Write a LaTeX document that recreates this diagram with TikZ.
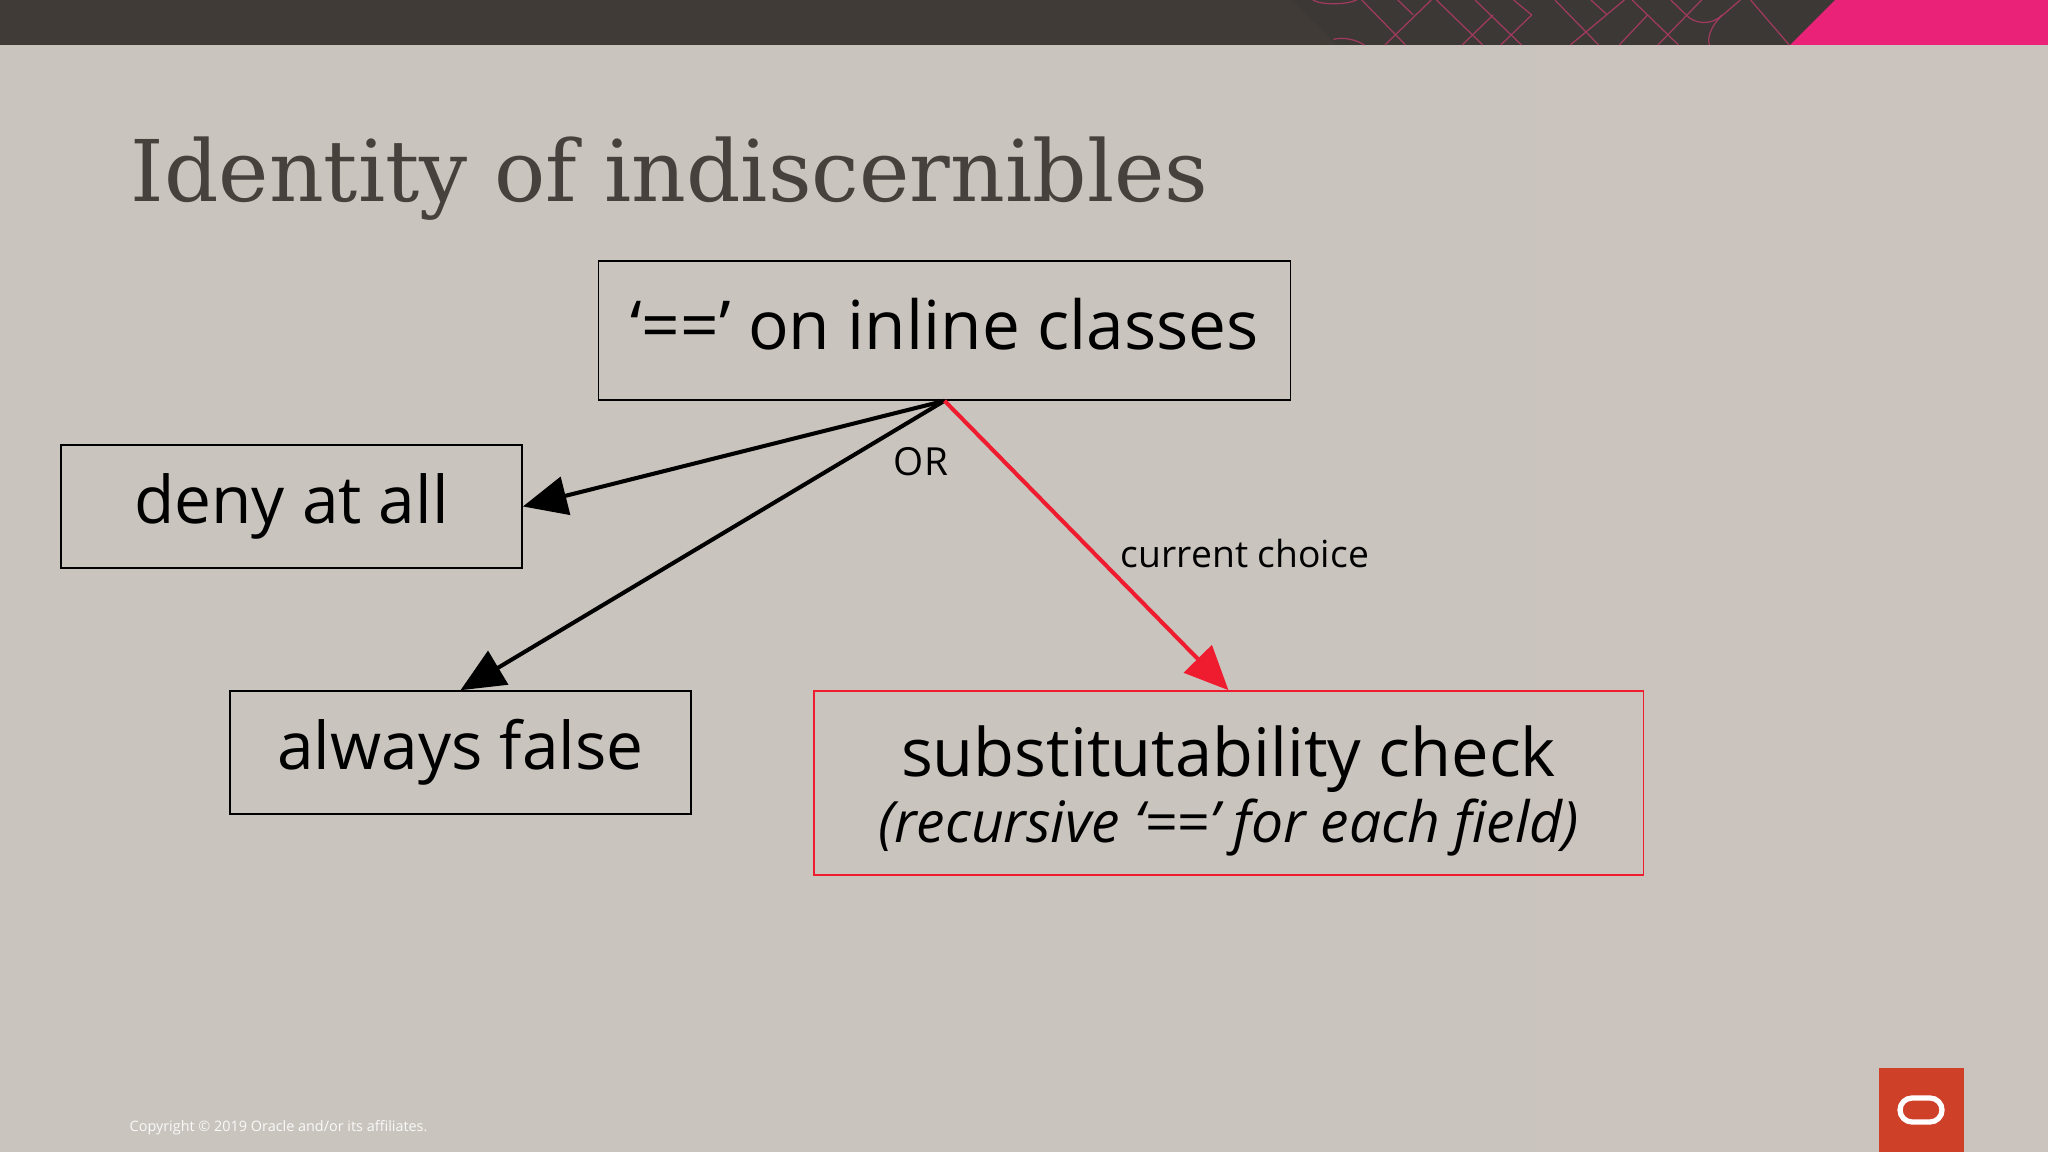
\documentclass[tikz,border=0pt]{standalone}
\usepackage{fontspec}
\setmainfont{Open Sans}
\newfontfamily\titlefont{DejaVu Serif}
\usetikzlibrary{arrows.meta,positioning}
\definecolor{bgleft}{HTML}{C9C5BE}
\definecolor{bgright}{HTML}{CBC3BE}
\definecolor{barcol}{HTML}{403B37}
\definecolor{barpat}{HTML}{3C3835}
\definecolor{titlecol}{HTML}{46413C}
\definecolor{patline}{HTML}{A03A5E}
\definecolor{pinkcol}{HTML}{EB2378}
\definecolor{choicered}{HTML}{EE1C2E}
\definecolor{logored}{HTML}{CF4029}
\tikzset{
  box/.style={draw=black,line width=0.42pt,inner sep=0pt,align=center},
  redbox/.style={box,draw=choicered},
  link/.style={line width=1.15pt,-{Triangle[length=12.5pt,width=11pt]}},
  lbl/.style={inner sep=0pt,font=\fontsize{10.6}{13}\selectfont}
}
\begin{document}
\begin{tikzpicture}[x=0.01cm,y=0.01cm]
\useasboundingbox (0,0) rectangle (2048,-1152);
\shade [left color=bgleft,right color=bgright] (0,0) rectangle (2048,-1152);
% top bar
\fill [barcol] (0,0) rectangle (2048,-45);
\fill [barpat] (1291,0) -- (1338,-45) -- (1790,-45) -- (1835,0) -- cycle;
\begin{scope}[xshift=12.4cm,xscale=0.515,yscale=0.333]
\foreach \xa/\ya/\xb/\yb in {235/0/320/135,370/0/280/135,305/0/335/45,380/0/470/135,490/45/430/135,455/0/545/135,530/0/565/45,565/45/505/135,610/0/695/135,745/0/640/135,680/0/712/45,760/0/850/135,790/45/735/135,895/0/810/135,970/0/925/60,990/0/1065/135}
  \draw [patline,line width=0.35pt] (\xa,-\ya) -- (\xb,-\yb);
\draw [patline,line width=0.35pt] (835,0) -- (865,-45) .. controls (880,-72) and (915,-78) .. (935,-45);
\draw [patline,line width=0.35pt] (935,-45) .. controls (915,-75) and (905,-110) .. (910,-135);
\draw [patline,line width=0.35pt] (140,0) .. controls (155,-15) and (205,-15) .. (225,0);
\draw [patline,line width=0.35pt] (180,-118) .. controls (200,-110) and (225,-120) .. (240,-135);
\end{scope}
\fill [pinkcol] (1790,-45) -- (1835,0) -- (2048,0) -- (2048,-45) -- cycle;
% title
\node (title) [anchor=base west,inner sep=0pt,text=titlecol,font=\titlefont\fontsize{24.2}{28}\selectfont] at (130,-202) {Identity of indiscernibles};
% boxes
\node (top) [box,minimum width=6.92cm,minimum height=1.39cm,text depth=0.13cm,font=\fontsize{19.2}{22}\selectfont] at (944.5,-330.5) {‘==’ on inline classes};
\node (deny) [box,minimum width=4.61cm,minimum height=1.23cm,font=\fontsize{18.7}{22}\selectfont] at (291.5,-506.5) {deny at all};
\node (false) [box,minimum width=4.61cm,minimum height=1.23cm,font=\fontsize{18.7}{22}\selectfont] at (460.5,-752.5) {always false};
\node (subst) [redbox,minimum width=8.29cm,minimum height=1.84cm,font=\fontsize{19}{19}\selectfont] at (1228.5,-783) {\rule{0pt}{19pt}substitutability check\\{\fontsize{16.2}{19}\selectfont\itshape (recursive ‘==’ for each field)}};
% links
\draw [link] (top.south) -- (deny.east);
\draw [link] (top.south) -- (false.north);
\draw [link,choicered] (top.south) -- (subst.north);
\node (orlbl) [lbl,font=\fontsize{11}{13}\selectfont] at (921,-462) {OR};
\node (choice) [lbl] at (1245,-554) {current choice};
% footer
\node (copy) [anchor=base west,inner sep=0pt,text=white!90!bgleft,font=\fontsize{4.1}{6}\selectfont] at (129,-1131.5) {Copyright © 2019 Oracle and/or its affiliates.};
\fill [logored] (1879,-1068) rectangle (1964,-1152);
\draw [white,line width=1.5pt,rounded corners=0.12cm] (1900,-1098) rectangle (1942,-1122);
\end{tikzpicture}
\end{document}
